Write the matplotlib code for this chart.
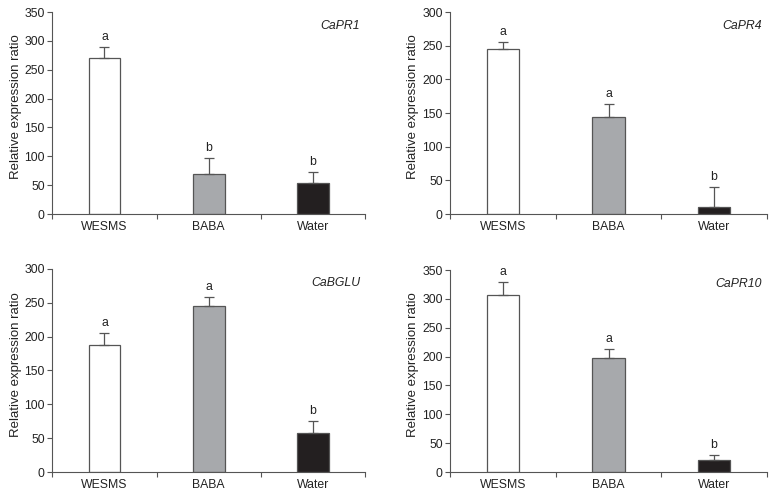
import matplotlib
matplotlib.use("Agg")
import matplotlib.pyplot as plt

plt.rcParams["font.family"] = ["Liberation Sans", "DejaVu Sans"]

TREATMENTS = ["WESMS", "BABA", "Water"]
GENES = ["CaPR1", "CaPR4", "CaBGLU", "CaPR10"]
MEANS = {
	"CaPR1": [270, 70, 54],
	"CaPR4": [245, 144, 10],
	"CaBGLU": [188, 246, 57],
	"CaPR10": [307, 198, 20],
}
ERRORS = {
	"CaPR1": [20, 27, 19],
	"CaPR4": [11, 20, 30],
	"CaBGLU": [17, 12, 19],
	"CaPR10": [22, 15, 10],
}
LETTERS = {
	"CaPR1": ["a", "b", "b"],
	"CaPR4": ["a", "a", "b"],
	"CaBGLU": ["a", "a", "b"],
	"CaPR10": ["a", "a", "b"],
}
YMAX = {"CaPR1": 350, "CaPR4": 300, "CaBGLU": 300, "CaPR10": 350}

COLORS = ["white", "#a7a9ac", "#231f20"]
EDGE = "#555555"
TXT = "#222222"
FS = 8.8

# axes rectangles in figure fractions (left, bottom, width, height)
RECTS = [
	[0.0676, 0.5694, 0.4040, 0.4064],
	[0.5818, 0.5694, 0.4088, 0.4064],
	[0.0676, 0.0503, 0.4040, 0.4085],
	[0.5818, 0.0503, 0.4088, 0.4064],
]


def draw_panel(ax, gene):
	xs = [i + 0.5 for i in range(len(TREATMENTS))]
	means = MEANS[gene]
	errs = ERRORS[gene]
	ax.bar(xs, means, width = 0.305, color = COLORS, edgecolor = EDGE,
		linewidth = 0.9, zorder = 2)
	ax.errorbar(xs, means, yerr = [[0] * len(errs), errs], fmt = "none",
		ecolor = EDGE, elinewidth = 0.9, capsize = 3.6, capthick = 0.9,
		zorder = 3)
	for x, m, e, lab in zip(xs, means, errs, LETTERS[gene]):
		ax.text(x, m + e + YMAX[gene] * 0.02, lab, ha = "center",
			va = "bottom", fontsize = FS, color = TXT)
	ax.text(0.985, 0.93, gene, transform = ax.transAxes, ha = "right",
		va = "center", fontsize = FS, style = "italic", color = TXT)
	ax.set_xlim(0, 3)
	ax.set_ylim(0, YMAX[gene])
	ax.set_yticks(range(0, YMAX[gene] + 1, 50))
	ax.set_xticks([0, 1, 2, 3])
	ax.set_xticks(xs, minor = True)
	ax.set_xticklabels([])
	ax.set_xticklabels(TREATMENTS, minor = True)
	ax.tick_params(axis = "x", which = "minor", length = 0, pad = 5,
		labelsize = FS, labelcolor = TXT)
	ax.tick_params(axis = "x", which = "major", length = 3.5, width = 0.8,
		color = EDGE)
	ax.tick_params(axis = "y", length = 3.5, width = 0.8, color = EDGE,
		pad = 2, labelsize = FS, labelcolor = TXT)
	ax.set_ylabel("Relative expression ratio", fontsize = 9.5, color = TXT)
	ax.yaxis.set_label_coords(-0.098, 0.53)
	for s in ["top", "right"]:
		ax.spines[s].set_visible(False)
	for s in ["left", "bottom"]:
		ax.spines[s].set_color(EDGE)
		ax.spines[s].set_linewidth(0.8)


def main():
	fig = plt.figure(figsize = (7.74, 4.97), dpi = 100)
	for rect, gene in zip(RECTS, GENES):
		ax = fig.add_axes(rect)
		draw_panel(ax, gene)
	fig.savefig("out.png", dpi = 100)


main()
